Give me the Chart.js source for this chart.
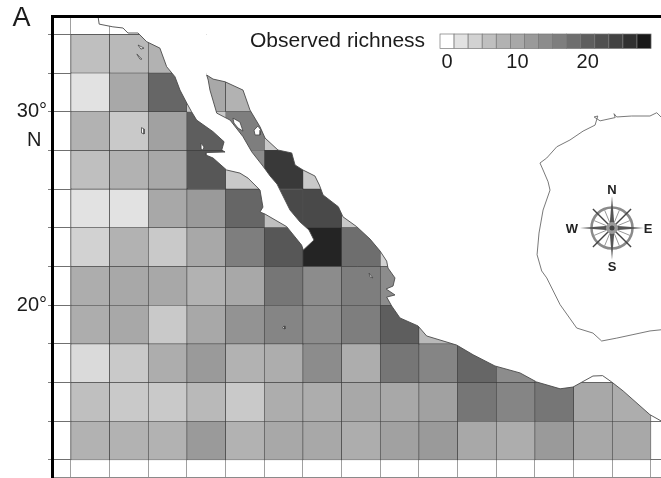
<!DOCTYPE html>
<html><head><meta charset="utf-8">
<style>html,body{margin:0;padding:0;background:#fff}canvas{display:block}</style>
<script src="https://cdn.jsdelivr.net/npm/chart.js@4"></script>
</head><body><canvas id="c" width="661" height="478"></canvas>
<script>
// Richness per 2-degree cell, west to east, by northern edge of the row
const row34=[6,7,8];
const row32=[2,10,19,10,8];
const row30=[8,5,11,20,16,5];
const row28=[6,8,10,21,5,25,5];
const row26=[2,2,10,12,19,6,23,5];
const row24=[4,8,5,10,16,21,27,18,4];
const row22=[9,10,10,8,10,17,14,16,14];
const row20=[9,10,5,10,13,15,14,16,20,7];
const row18=[3,5,9,12,8,9,14,9,17,15,19,14];
const row16=[6,5,5,7,5,9,9,10,10,11,17,15,17,10,9];
const row14=[8,8,8,12,8,10,10,9,11,12,10,9,12,10,10];
const rowNorth=[34,32,30,28,26,24,22,20,18,16,14];
const rows=[row34,row32,row30,row28,row26,row24,row22,row20,row18,row16,row14];
const westLon=-122;

// Parts of a cell on the other side of the peninsula: [richness, lon/lat ring]
const patchGuadalupeSide=[5,[[-114.6,30],[-114,30],[-114,28.7]]];
const patchTiburonSide=[14,[[-113.26,28],[-112,28],[-112,26.88],[-113,27.2]]];
const patchCapeSide=[23,[[-111.45,26],[-110,26],[-110,24],[-110.41,24]]];
const patchNorthSliver=[5,[[-116,30.6],[-116,30],[-115.7,30]]];

// Coasts, lon/lat
const pacificCoast=[[-120.6,34.95],[-120.54,34.53],[-119.83,34.39],[-119.31,34.33],[-119.05,34.07],[-118.53,34.07],[-118.08,33.62],[-117.4,33.29],[-117.05,32.33],[-116.62,31.81],[-116.36,31.12],[-116.01,30.45],[-115.76,30],[-115.5,29.57],[-114.65,28.97],[-114.08,28.45],[-114.2,28.02],[-114.03,27.92],[-115.02,27.89],[-115.02,27.76],[-114.65,27.61],[-113.95,26.99],[-113.26,26.83],[-112.84,26.57],[-112.22,25.95],[-112.07,25.07],[-112.22,24.82],[-111.96,24.71],[-110.84,24.06],[-110.07,23.11],[-109.98,22.85]];
const gulfWestCoast=[[-109.98,22.85],[-109.43,23.37],[-109.69,23.89],[-110.15,24.3],[-110.67,24.92],[-111.03,25.64],[-111.34,26.26],[-111.7,26.68],[-112.07,27.19],[-112.65,27.93],[-113.1,28.71],[-113.77,29.57],[-114.46,29.93],[-114.81,31.12],[-114.9,31.64],[-114.98,31.9]];
const mainlandCoast=[[-114.98,31.9],[-114.65,31.69],[-114.03,31.55],[-113.1,31.12],[-112.74,30.09],[-112.22,29.22],[-111.96,28.64],[-111.29,28.02],[-110.58,27.87],[-110.41,27.25],[-110,26.99],[-109.38,26.68],[-109.15,26.21],[-108.96,25.7],[-108.17,25.09],[-107.93,24.57],[-107.22,24.06],[-106.53,23.42],[-106.01,22.8],[-105.67,22.28],[-105.6,21.92],[-105.24,21.41],[-105.34,20.99],[-105.7,20.84],[-105.24,20.53],[-105.67,20.42],[-105.41,19.96],[-104.98,19.34],[-104.05,18.93],[-103.6,18.41],[-102.05,17.94],[-101.2,17.44],[-100.07,16.86],[-98.77,16.5],[-97.91,16.03],[-96.7,15.68],[-96.03,15.77],[-95,16.34],[-94.5,16.36],[-94.03,16.03],[-93.44,15.57],[-92.05,14.34],[-91.48,14.02]];
const gulfOfMexicoCoast=[[-91.48,29.73],[-91.7,29.95],[-92.05,29.78],[-93,29.78],[-93.77,29.73],[-93.91,29.9],[-93.85,29.7],[-94.63,29.53],[-94.94,29.73],[-94.75,29.78],[-94.89,29.31],[-95.51,29],[-96.19,28.54],[-96.87,28.19],[-97.39,27.61],[-97.74,27.35],[-97.58,26.99],[-97.32,26.38],[-97.22,25.95],[-97.58,24.92],[-97.79,23.73],[-97.89,22.61],[-97.65,21.77],[-97.39,21.41],[-96.7,20.03],[-95.84,18.82],[-95,18.56],[-94.55,18.15],[-93.77,18.3],[-92.93,18.48],[-92.05,18.67],[-91.48,18.73]];

// Islands, lon/lat
const angelIsland=[[-113.62,29.67],[-113.26,29.47],[-113.1,29],[-113.36,29.16],[-113.57,29.42]];
const tiburonIsland=[[-112.53,29.05],[-112.33,29.26],[-112.17,29.05],[-112.22,28.8],[-112.48,28.8]];
const guadalupeIsland=[[-118.35,29.18],[-118.22,29.11],[-118.22,28.85],[-118.33,28.9]];
const cedrosIsland=[[-115.27,28.38],[-115.12,28.18],[-115.17,28.02],[-115.27,28.07]];
const catalinaIsland=[[-118.53,33.45],[-118.22,33.29],[-118.38,33.24]];
const clementeIsland=[[-118.59,32.98],[-118.33,32.72],[-118.43,32.72]];
const socorroIsland=[[-111.06,18.82],[-110.98,18.93],[-110.93,18.77]];
const mariasIsland=[[-106.58,21.66],[-106.38,21.41],[-106.53,21.46]];
const islands=[angelIsland,tiburonIsland,guadalupeIsland,cedrosIsland,catalinaIsland,clementeIsland,socorroIsland,mariasIsland];

// Axes and legend
const lonTicks=[-122,-120,-118,-116,-114,-112,-110,-108,-106,-104,-102,-100,-98,-96,-94,-92];
const latTicks=[12,14,16,18,20,22,24,26,28,28.54,30,32,34];
const latLabels={20:'20°',30:'30°',28.54:'N '};
const legendTitle='Observed richness';
const legendTicks=[0,10,20];
const rampGreys=[255,226,210,191,178,168,154,140,126,110,94,80,66,48,24];
const compassLetters=['N','E','S','W'];
const panelLetter='A';

function grey(v){
  const t=v/2,i=Math.min(Math.floor(t),rampGreys.length-2),f=t-i;
  const g=Math.round(rampGreys[i]+(rampGreys[i+1]-rampGreys[i])*f);
  return 'rgb('+g+','+g+','+g+')';
}
const toPts=a=>a.map(p=>({x:p[0],y:p[1]}));
const cells=[],cellColors=[];
rows.forEach((r,j)=>r.forEach((v,i)=>{
  cells.push({x:westLon+2*i+1,y:[rowNorth[j]-2,rowNorth[j]]});
  cellColors.push(grey(v));
}));
const yTop=34.95,yBot=11.12,xLeft=-122.98,xRight=-91.48;
const bajaMask=[...pacificCoast,...gulfWestCoast,[-114.98,yTop]];
const mainMask=[...mainlandCoast,[xRight,yTop],[-114.98,yTop]];
const shape=(ring,color,order,extra)=>Object.assign({type:'scatter',data:toPts(ring.concat([ring[0]])),showLine:true,fill:'shape',
  backgroundColor:color,borderWidth:0,pointRadius:0,order:order,tension:0},extra||{});
const line=(ring,color,w,order)=>({type:'scatter',data:toPts(ring),showLine:true,fill:false,borderColor:color,borderWidth:w,pointRadius:0,order:order,tension:0});
const datasets=[
  {type:'bar',label:'richness',data:cells,backgroundColor:cellColors,borderColor:'#3c3c3c',borderWidth:0.6,borderSkipped:false,
   barPercentage:1,categoryPercentage:1,grouped:false,order:5},
  ...[patchGuadalupeSide,patchTiburonSide,patchCapeSide,patchNorthSliver].map(p=>shape(p[1],grey(p[0]),4)),
  shape(bajaMask,'#fff',3),
  shape(mainMask,'#fff',3),
  line(pacificCoast,'#4a4a4a',0.9,2),
  line(gulfWestCoast,'#4a4a4a',0.9,2),
  line(mainlandCoast,'#4a4a4a',0.9,2),
  line(gulfOfMexicoCoast,'#6a6a6a',0.9,2),
  ...islands.map(r=>shape(r,'#fff',1,{borderWidth:0.8,borderColor:'#444'}))
];

const overlay={id:'overlay',afterDatasetsDraw(chart){
  const c=chart.ctx;
  c.save();
  c.fillStyle='#1c1c1c';c.textBaseline='middle';c.textAlign='left';
  c.font='27px "Liberation Sans"';
  c.fillText(panelLetter,12.5,18.5);
  c.font='21px "Liberation Sans"';
  c.fillText(legendTitle,250,41.5);
  // colour key
  const kx=440,ky=34,kw=14.07,kh=14.5;
  rampGreys.forEach((g,i)=>{
    c.fillStyle=grey(i*2);
    c.fillRect(kx+i*kw,ky,kw,kh);
    c.strokeStyle='#777';c.lineWidth=0.7;
    c.strokeRect(kx+i*kw,ky,kw,kh);
  });
  c.fillStyle='#1c1c1c';c.textAlign='center';c.font='20px "Liberation Sans"';
  legendTicks.forEach(v=>c.fillText(String(v),kx+(v/2+0.5)*kw,62.5));
  // compass rose
  const cx=612,cy=228;
  c.strokeStyle='#8a8a8a';c.lineWidth=2.5;
  c.beginPath();c.arc(cx,cy,20.5,0,7);c.stroke();
  c.lineWidth=1;c.strokeStyle='#999';
  for(let i=0;i<16;i++){const a=i*Math.PI/8;c.beginPath();c.moveTo(cx+6*Math.cos(a),cy+6*Math.sin(a));c.lineTo(cx+20*Math.cos(a),cy+20*Math.sin(a));c.stroke();}
  c.strokeStyle='#444';c.lineWidth=1.4;
  for(let i=0;i<4;i++){const a=Math.PI/4+i*Math.PI/2;c.beginPath();c.moveTo(cx,cy);c.lineTo(cx+27*Math.cos(a),cy+27*Math.sin(a));c.stroke();}
  c.fillStyle='#555';
  for(let i=0;i<4;i++){const a=i*Math.PI/2;c.beginPath();
    c.moveTo(cx+32*Math.cos(a),cy+32*Math.sin(a));
    c.lineTo(cx+2.6*Math.cos(a+Math.PI/2),cy+2.6*Math.sin(a+Math.PI/2));
    c.lineTo(cx+2.6*Math.cos(a-Math.PI/2),cy+2.6*Math.sin(a-Math.PI/2));
    c.closePath();c.fill();}
  c.fillStyle='#999';c.beginPath();c.arc(cx,cy,6,0,7);c.fill();
  c.fillStyle='#444';c.beginPath();c.arc(cx,cy,2.5,0,7);c.fill();
  c.fillStyle='#222';c.font='bold 13px "Liberation Sans"';
  const pos=[[612,190.5],[648,229],[612,267],[572,229]];
  compassLetters.forEach((t,i)=>c.fillText(t,pos[i][0],pos[i][1]));
  c.restore();
}};

new Chart(document.getElementById('c'),{
  data:{datasets},
  plugins:[overlay],
  options:{
    responsive:false,animation:false,
    layout:{padding:{top:16,right:0,bottom:0,left:0}},
    plugins:{legend:{display:false},tooltip:{enabled:false}},
    scales:{
      x:{type:'linear',position:'bottom',offset:false,min:xLeft,max:xRight,
        afterBuildTicks:s=>{s.ticks=lonTicks.map(v=>({value:v}));},
        afterFit:s=>{s.height=1;s.paddingLeft=0;s.paddingRight=0;},
        ticks:{display:false},
        grid:{color:'#a0a0a0',lineWidth:1,drawTicks:false,offset:false},
        border:{color:'#8a8a8a',width:1}},
      xTop:{type:'linear',position:'top',min:xLeft,max:xRight,
        afterFit:s=>{s.height=0;s.paddingLeft=0;s.paddingRight=0;},
        ticks:{display:false},grid:{display:false},
        border:{color:'#000',width:3,z:2}},
      y:{type:'linear',position:'left',min:yBot,max:yTop,
        afterBuildTicks:s=>{s.ticks=latTicks.map(v=>({value:v}));},
        afterFit:s=>{s.width=52;s.paddingTop=0;s.paddingBottom=0;},
        ticks:{padding:1,color:'#1c1c1c',autoSkip:false,font:{family:'"Liberation Sans"',size:20},
          callback:v=>latLabels[v]||''},
        grid:{tickLength:4,lineWidth:1,
          color:c=>c.tick&&c.tick.value===28.54?'rgba(0,0,0,0)':'#707070',
          tickColor:c=>c.tick&&c.tick.value===28.54?'rgba(0,0,0,0)':'#808080'},
        border:{color:'#000',width:3,z:2}}
    }
  }
});
</script></body></html>
